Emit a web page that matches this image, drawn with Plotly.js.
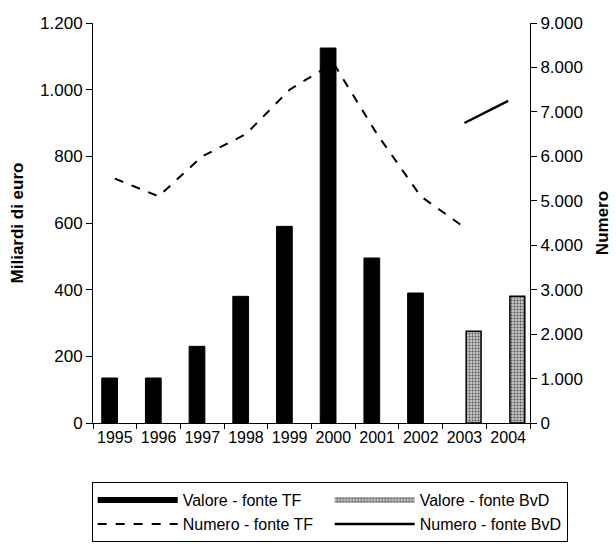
<!DOCTYPE html>
<html>
<head>
<meta charset="utf-8">
<script src="https://cdn.plot.ly/plotly-3.0.1.min.js"></script>
<style>html,body{margin:0;padding:0;background:#fff;}#chart{width:616px;height:544px;}</style>
</head>
<body>
<div id="chart"></div>
<script>
const years = ['1995','1996','1997','1998','1999','2000','2001','2002','2003','2004'];
const valoreTF  = [135, 135, 230, 380, 590, 1125, 495, 390, null, null];
const valoreBvD = [null, null, null, null, null, null, null, null, 275, 380];
const numeroTF  = [5500, 5100, 6000, 6500, 7500, 8100, 6500, 5100, 4400, null];
const numeroBvD = [null, null, null, null, null, null, null, null, 6750, 7250];
const leftTicks = [0, 200, 400, 600, 800, 1000, 1200];
const rightTicks = [0, 1000, 2000, 3000, 4000, 5000, 6000, 7000, 8000, 9000];

const FONT = 'Liberation Sans, Arial, sans-serif';
const BVD_GRAY = '#c4c4c4';

const traces = [
  {type:'bar', name:'Valore - fonte TF', x:years, y:valoreTF, yaxis:'y',
   width:0.36, offset:-0.3, showlegend:false, legendgroup:'vtf',
   marker:{color:'#000', line:{color:'#000', width:1}}},
  {type:'bar', name:'Valore - fonte BvD', x:years, y:valoreBvD, yaxis:'y',
   width:0.34, offset:0.04, showlegend:false, legendgroup:'vbvd',
   marker:{color:BVD_GRAY, line:{color:'#000', width:1.5},
           pattern:{shape:'.', fgcolor:'#555', bgcolor:BVD_GRAY, size:3, solidity:0.35}}},
  // legend entries (no data drawn) giving the long rectangular keys of the original
  {type:'scatter', mode:'none', fill:'toself', name:'Valore - fonte TF', legendgroup:'vtf',
   x:[null], y:[null], fillcolor:'#000', line:{color:'#000', width:1}, hoverinfo:'skip'},
  {type:'scatter', mode:'none', fill:'toself', name:'Valore - fonte BvD', legendgroup:'vbvd',
   x:[null], y:[null], fillcolor:BVD_GRAY, line:{color:'#000', width:1.5},
   fillpattern:{shape:'.', fgcolor:'#555', bgcolor:BVD_GRAY, size:3, solidity:0.35}, hoverinfo:'skip'},
  {type:'scatter', mode:'lines', name:'Numero - fonte TF', x:years, y:numeroTF, yaxis:'y2',
   line:{color:'#000', width:2, dash:'dash'}},
  {type:'scatter', mode:'lines', name:'Numero - fonte BvD', x:years, y:numeroBvD, yaxis:'y2',
   line:{color:'#000', width:2.5}}
];

const layout = {
  width:616, height:544,
  margin:{l:93, r:86, t:23, b:121, autoexpand:false},
  paper_bgcolor:'#fff', plot_bgcolor:'#fff',
  separators:',.',
  font:{family:FONT, size:16, color:'#000'},
  showlegend:true,
  barmode:'overlay',
  xaxis:{type:'category', showline:true, linecolor:'#000', linewidth:1,
         ticks:'outside', ticklen:5, tickcolor:'#000', tickson:'boundaries',
         showgrid:false, zeroline:false, tickfont:{size:16}, tickangle:0},
  yaxis:{range:[0,1200], tickvals:leftTicks, tickformat:',d',
         showline:true, linecolor:'#000', linewidth:1,
         ticks:'outside', ticklen:6, tickcolor:'#000', showgrid:false, zeroline:false,
         tickfont:{size:17},
         title:{text:'<b>Miliardi di euro</b>', font:{size:17}, standoff:12}},
  yaxis2:{range:[0,9000], tickvals:rightTicks, tickformat:',d', overlaying:'y', side:'right',
          showline:true, linecolor:'#000', linewidth:1,
          ticks:'outside', ticklen:6, tickcolor:'#000', showgrid:false, zeroline:false,
          tickfont:{size:17},
          title:{text:'<b>Numero</b>', font:{size:17}, standoff:14}},
  legend:{orientation:'h', x:-0.003, xanchor:'left', y:-0.148, yanchor:'top',
          bordercolor:'#000', borderwidth:1, bgcolor:'#fff',
          entrywidth:142, entrywidthmode:'pixels', traceorder:'normal',
          font:{size:16}, itemwidth:80, tracegroupgap:0}
};

Plotly.newPlot('chart', traces, layout, {displayModeBar:false, staticPlot:true});
</script>
</body>
</html>
